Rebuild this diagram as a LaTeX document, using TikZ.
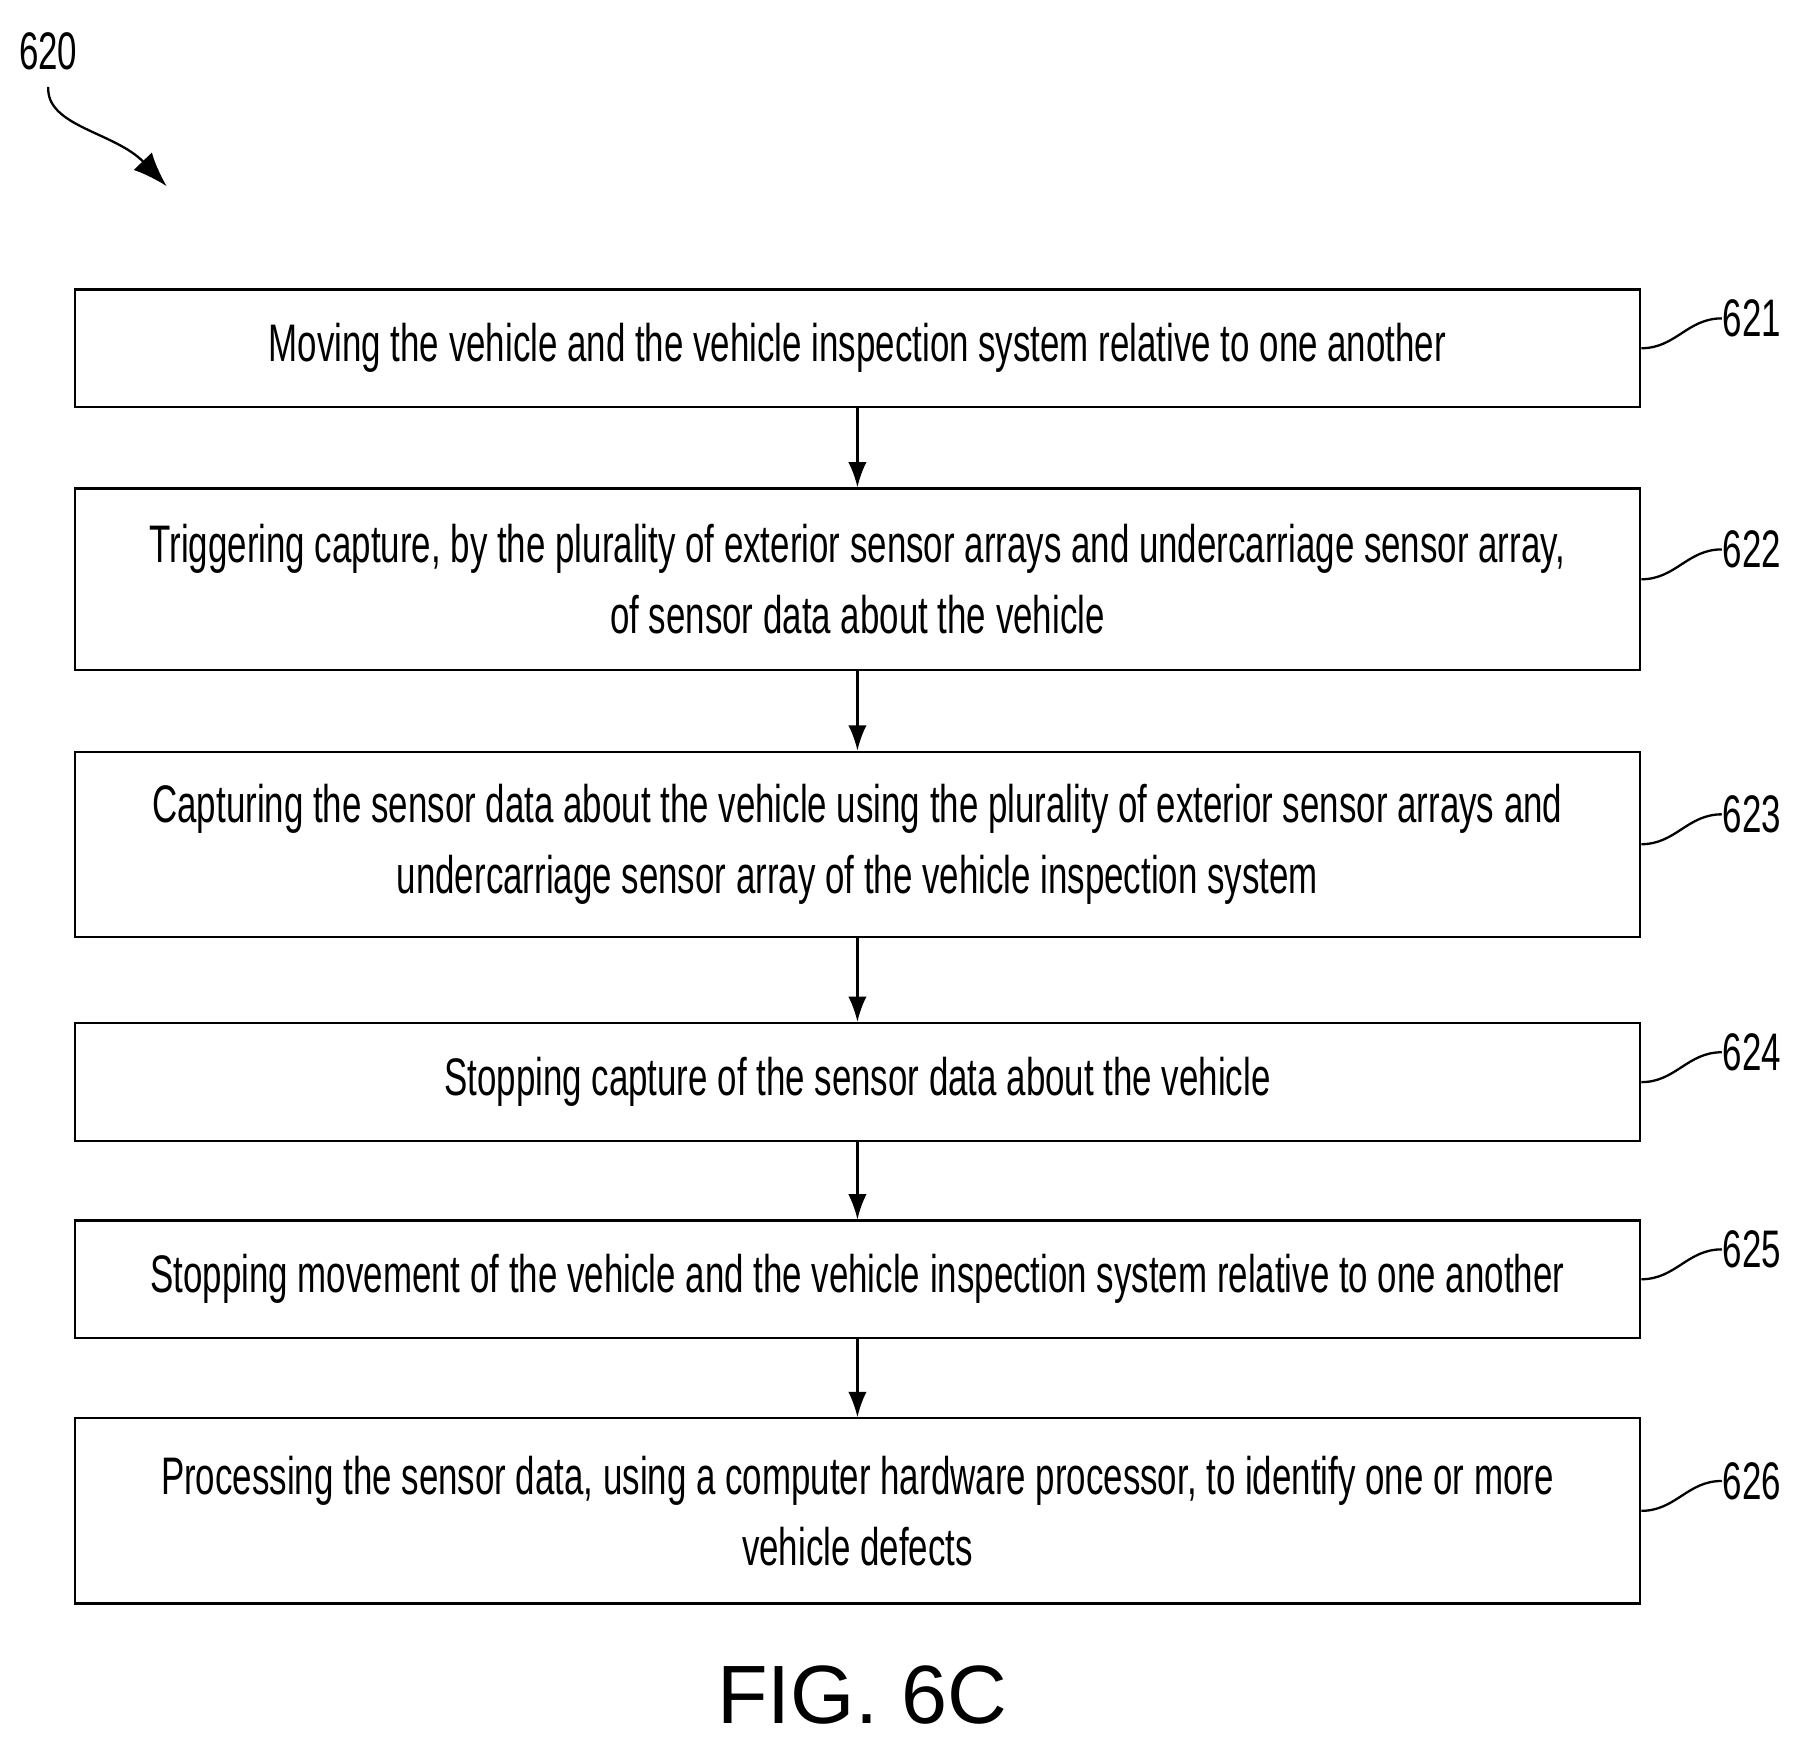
\documentclass[tikz,border=0pt]{standalone}
\usepackage{fontspec}
\setmainfont{Liberation Sans}[FakeStretch=0.66]
\newfontfamily\figfont{Liberation Sans}
\usetikzlibrary{arrows.meta}
\tikzset{every picture/.style={line width=2pt}}
\tikzset{
  stepbox/.style={draw,line width=2pt,minimum width=1362pt,align=center,font=\fontsize{46}{62}\selectfont,inner sep=0pt},
  ref/.style={font=\fontsize{46}{50}\selectfont,anchor=west,inner sep=0pt},
  flow/.style={-{Latex[length=22pt,width=16pt]},line width=2pt}
}
\begin{document}
\begin{tikzpicture}[x=1pt,y=1pt,yscale=-1,xscale=1]
\useasboundingbox (0,0) rectangle (1560,1517);

\node [stepbox,minimum height=102pt] (s1) at (746,303) {Moving the vehicle and the vehicle inspection system relative to one another};
\node [stepbox,minimum height=158pt] (s2) at (746,504) {Triggering capture, by the plurality of exterior sensor arrays and undercarriage sensor array,\\of sensor data about the vehicle};
\node [stepbox,minimum height=161pt] (s3) at (746,734.5) {Capturing the sensor data about the vehicle using the plurality of exterior sensor arrays and\\undercarriage sensor array of the vehicle inspection system};
\node [stepbox,minimum height=103pt] (s4) at (746,941.5) {Stopping capture of the sensor data about the vehicle};
\node [stepbox,minimum height=102pt] (s5) at (746,1113) {Stopping movement of the vehicle and the vehicle inspection system relative to one another};
\node [stepbox,minimum height=161pt] (s6) at (746,1314.5) {Processing the sensor data, using a computer hardware processor, to identify one or more\\vehicle defects};

\foreach \a/\b in {s1/s2,s2/s3,s3/s4,s4/s5,s5/s6}
  \draw [flow] (\a) -- (\b);

% reference numerals
\foreach \s/\n in {s1/621,s2/622,s3/623,s4/624,s5/625,s6/626} {
  \node [ref] (r\n) at ([xshift=70pt,yshift=-26pt]\s.east) {\n};
  \draw (\s.east) .. controls +(30,0) and +(-30,0) .. (r\n.west);
}

\node [font=\fontsize{46}{50}\selectfont] (r620) at (42,45) {620};
\coordinate (t620) at (145,162);
\draw [-{Latex[length=30pt,width=22pt]}] (r620.south) ++(0,10) .. controls (40,110) and (100,115) .. (t620);

\node [font=\figfont\fontsize{72}{80}\selectfont] (fig) at (750,1475) {FIG. 6C};
\end{tikzpicture}
\end{document}
